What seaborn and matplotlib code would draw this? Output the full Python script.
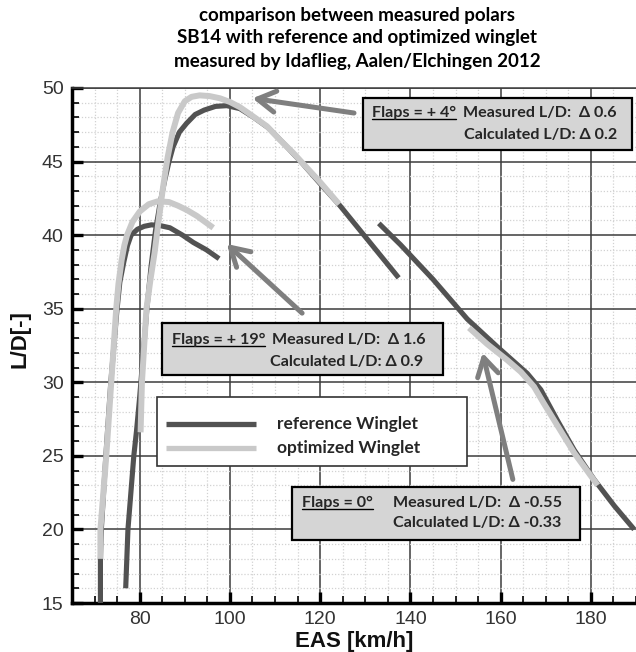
import matplotlib
matplotlib.use("Agg")
import matplotlib.pyplot as plt
import seaborn as sns
import pandas as pd
from matplotlib.patches import Rectangle
from matplotlib.lines import Line2D
from matplotlib.ticker import MultipleLocator

# ---------------- data ----------------
# Flaps +19 deg
ref19_eas = [71.3, 71.3, 71.5, 72.5, 73.6, 74.9, 75.6, 76.5, 77.3, 78.1, 79.5, 81.0, 82.6, 84.5, 86.7, 89.5, 91.9, 94.8, 97.6]
ref19_ld = [15.0, 18.0, 20.0, 25.0, 30.0, 34.7, 36.8, 38.2, 39.3, 40.0, 40.4, 40.6, 40.7, 40.65, 40.5, 40.0, 39.5, 39.0, 38.4]
opt19_eas = [71.3, 71.3, 72.6, 73.7, 74.8, 75.3, 76.0, 76.6, 77.2, 78.4, 80.0, 82.0, 84.0, 86.5, 88.5, 90.5, 92.7, 94.5, 96.3]
opt19_ld = [18.0, 20.0, 25.0, 30.0, 35.0, 36.7, 38.3, 39.3, 40.0, 40.9, 41.6, 42.1, 42.3, 42.25, 42.0, 41.7, 41.3, 40.9, 40.5]
# Flaps +4 deg
ref4_eas = [76.9, 77.4, 78.7, 79.3, 80.0, 80.8, 81.6, 82.5, 83.5, 84.6, 85.6, 86.5, 87.4, 88.8, 90.4, 92.3, 94.3,
            96.8, 99.3, 102.2, 105.3, 108.5, 112.0, 116.0, 120.0, 124.4, 137.4]
ref4_ld = [16.0, 20.0, 25.0, 26.7, 29.0, 32.0, 35.0, 37.8, 40.3, 42.3, 43.8, 45.0, 46.0, 47.0, 47.6, 48.2, 48.5,
           48.75, 48.8, 48.6, 48.0, 47.3, 46.2, 44.9, 43.5, 42.0, 37.1]
opt4_eas = [80.2, 80.5, 81.0, 81.5, 82.4, 83.3, 84.2, 85.2, 86.2, 87.3, 88.5, 90.0, 91.5, 93.3, 95.5, 97.8,
            100.0, 102.2, 105.0, 108.2, 111.0, 114.0, 117.0, 120.0, 124.2]
opt4_ld = [26.6, 30.0, 32.5, 35.0, 37.0, 38.8, 41.0, 43.3, 45.3, 47.0, 48.3, 49.1, 49.4, 49.5, 49.45, 49.3,
           49.05, 48.7, 48.1, 47.4, 46.5, 45.6, 44.6, 43.6, 42.1]
# Flaps 0 deg
ref0_eas = [133.0, 137.8, 145.0, 152.6, 159.3, 165.9, 168.9, 172.6, 176.3, 180.7, 185.2, 189.6]
ref0_ld = [40.8, 39.35, 37.0, 34.3, 32.4, 30.6, 29.5, 27.4, 25.4, 23.4, 21.6, 20.0]
opt0_eas = [153.0, 157.0, 161.5, 164.5, 167.4, 169.5, 171.9, 176.3, 181.5]
opt0_ld = [33.7, 32.6, 31.5, 30.7, 29.7, 28.6, 27.4, 25.2, 23.0]

# annotation arrows: (tail EAS, tail L/D, tip EAS, tip L/D)
arrow_tails_eas = [127.5, 116.0, 162.7]
arrow_tails_ld = [48.3, 34.7, 23.4]
arrow_tips_eas = [105.0, 99.3, 156.0]
arrow_tips_ld = [49.3, 39.4, 32.0]

title_lines = ["comparison between measured polars",
               "SB14 with reference and optimized winglet",
               "measured by Idaflieg, Aalen/Elchingen 2012"]
legend_labels = ["reference Winglet", "optimized Winglet"]
box_flaps = ["Flaps = + 4°", "Flaps = + 19°", "Flaps = 0°"]
box_measured = ["Measured L/D:  Δ 0.6", "Measured L/D:  Δ 1.6", "Measured L/D:  Δ -0.55"]
box_calculated = ["Calculated L/D: Δ 0.2", "Calculated L/D: Δ 0.9", "Calculated L/D: Δ -0.33"]

# ---------------- figure ----------------
sns.set_theme(style="white")
plt.rcParams["font.family"] = ["Liberation Sans", "DejaVu Sans"]
CAL = ["Lato", "DejaVu Sans"]

W, H = 636, 652
fig = plt.figure(figsize=(W / 100, H / 100), dpi=100)
fig.patch.set_facecolor("white")
ax = fig.add_axes([72 / W, 1 - 603 / H, (W - 72) / W, (603 - 88) / H])
ax.set_facecolor("white")


def fx(x):
    return x / W


def fy(y):
    return 1 - y / H


DARK = "#525252"
LIGHT = "#c9c9c9"

rows = []
for flap, wing, xs, ys in [("+19", "reference", ref19_eas, ref19_ld),
                           ("+4", "reference", ref4_eas, ref4_ld),
                           ("0", "reference", ref0_eas, ref0_ld),
                           ("+19", "optimized", opt19_eas, opt19_ld),
                           ("+4", "optimized", opt4_eas, opt4_ld),
                           ("0", "optimized", opt0_eas, opt0_ld)]:
    for i, (x, y) in enumerate(zip(xs, ys)):
        rows.append(dict(flap=flap, winglet=wing, order=i, EAS=x, LD=y))
df = pd.DataFrame(rows)

for wing in ["reference", "optimized"]:
    for flap in ["+19", "+4", "0"]:
        g = df[(df.flap == flap) & (df.winglet == wing)]
        sns.lineplot(data=g, x="EAS", y="LD", sort=False, estimator=None, ax=ax,
                     color=DARK if wing == "reference" else LIGHT,
                     lw=3.7 if wing == "reference" else 4.3, solid_capstyle="butt", zorder=3)

for tx, ty, hx, hy in zip(arrow_tails_eas, arrow_tails_ld, arrow_tips_eas, arrow_tips_ld):
    ax.annotate("", xy=(hx, hy), xytext=(tx, ty),
                arrowprops=dict(arrowstyle="->,head_length=0.65,head_width=0.38", color="#7f7f7f",
                                lw=3.6, shrinkA=0, shrinkB=0, mutation_scale=20), zorder=4)

ax.set_xlim(65, 190)
ax.set_ylim(15, 50)
ax.xaxis.set_major_locator(MultipleLocator(20))
ax.xaxis.set_minor_locator(MultipleLocator(5))
ax.yaxis.set_major_locator(MultipleLocator(5))
ax.yaxis.set_minor_locator(MultipleLocator(1))
ax.grid(which="major", color="#3c3c3c", lw=1.1, ls="-", zorder=1)
ax.grid(which="minor", color="#d2d2d2", lw=0.9, ls=(0, (1, 1.5)), zorder=0)
ax.set_axisbelow(True)
ax.tick_params(which="major", direction="in", length=8, width=2.4, color="black",
               labelsize=14, labelcolor="#333333", pad=6, left=True, bottom=True)
ax.tick_params(which="minor", direction="in", length=5, width=1.2, color="black", left=True, bottom=True)
for s in ["left", "bottom"]:
    ax.spines[s].set_color("black")
    ax.spines[s].set_linewidth(2.5)
ax.spines["top"].set_color("#3c3c3c")
ax.spines["top"].set_linewidth(1.1)
ax.spines["right"].set_visible(False)

ax.set_xlabel("EAS [km/h]", fontsize=16, fontweight="bold", color="#111111")
ax.set_ylabel("L/D[-]", fontsize=16, fontweight="bold", color="#111111")
ax.xaxis.label.set_va("center")
ax.yaxis.label.set_va("center")
ax.xaxis.set_label_coords((354 - 72) / 564, (603 - 641) / 515)
ax.yaxis.set_label_coords((20 - 72) / 564, (603 - 339) / 515)

# title
for line, yy in zip(title_lines, [15, 38, 61]):
    fig.text(fx(357), fy(yy), line, ha="center", va="center", fontsize=13.5, fontweight="bold",
             family=CAL, color="black")

# info boxes
boxes = [(363, 98, 632, 150), (162, 323, 443, 375), (292, 487, 580, 540)]
flap_pos = [(372, 113), (172, 340), (302, 503)]
meas_pos = [(463, 113), (272, 340), (393, 503)]
calc_pos = [(464, 135), (270, 362), (393, 523)]
FS = 11.6
flap_texts = []
for (x0, y0, x1, y1), fp, mp, cp, ft, mt, ct in zip(boxes, flap_pos, meas_pos, calc_pos,
                                                   box_flaps, box_measured, box_calculated):
    fig.add_artist(Rectangle((fx(x0), fy(y1)), (x1 - x0) / W, (y1 - y0) / H, transform=fig.transFigure,
                             facecolor="#d5d5d5", edgecolor="black", lw=1.6, zorder=5))
    t = fig.text(fx(fp[0]), fy(fp[1]), ft, ha="left", va="center", fontsize=FS, fontweight="bold",
                 family=CAL, zorder=6)
    flap_texts.append(t)
    fig.text(fx(mp[0]), fy(mp[1]), mt, ha="left", va="center", fontsize=FS, fontweight="bold",
             family=CAL, zorder=6)
    fig.text(fx(cp[0]), fy(cp[1]), ct, ha="left", va="center", fontsize=FS, fontweight="bold",
             family=CAL, zorder=6)

# legend box
fig.add_artist(Rectangle((fx(157), fy(466)), (467 - 157) / W, (466 - 397) / H, transform=fig.transFigure,
                         facecolor="white", edgecolor="#333333", lw=1.2, zorder=5))
for yy, col, lab in zip([424, 448], [DARK, LIGHT], legend_labels):
    fig.add_artist(Line2D([fx(166), fx(256)], [fy(yy), fy(yy)], transform=fig.transFigure,
                          color=col, lw=3.8, solid_capstyle="butt", zorder=6))
    fig.text(fx(277), fy(yy), lab, ha="left", va="center", fontsize=12.5, fontweight="bold",
             family=CAL, zorder=6)

# underline "Flaps = ..."
fig.canvas.draw()
r = fig.canvas.get_renderer()
for t in flap_texts:
    bb = t.get_window_extent(r)
    yl = bb.y0 + 1
    fig.add_artist(Line2D([bb.x0 / W, bb.x1 / W], [yl / H, yl / H], transform=fig.transFigure,
                          color="black", lw=1.0, zorder=6))

fig.savefig("out.png", dpi=100)
